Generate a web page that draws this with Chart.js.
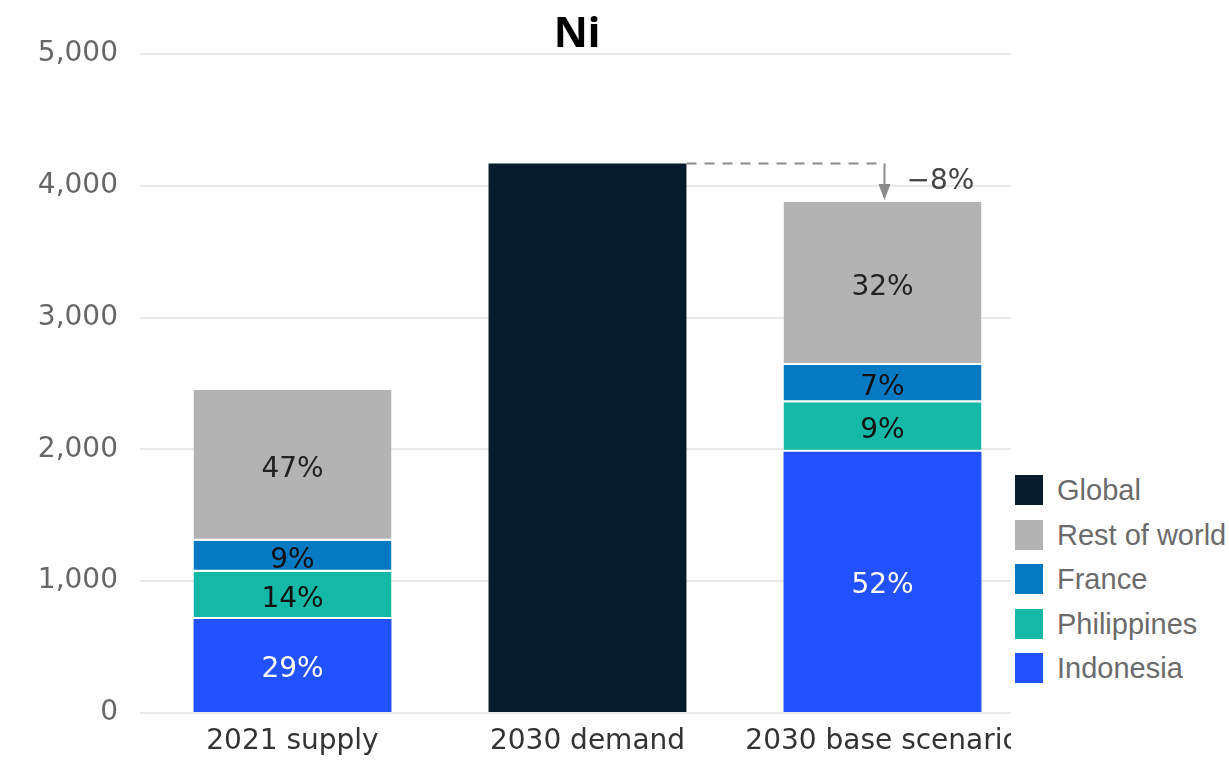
<!DOCTYPE html>
<html>
<head>
<meta charset="utf-8">
<script src="https://cdn.jsdelivr.net/npm/chart.js@4/dist/chart.umd.min.js"></script>
<style>
  html, body { margin: 0; padding: 0; background: #fff; }
  body { width: 1229px; height: 763px; overflow: hidden; position: relative; }
  #wrap { position: absolute; left: 0; top: 0; width: 1011px; height: 763px; overflow: hidden; }
  #title {
    position: absolute; left: 0; top: 10px; width: 1154px; text-align: center;
    font: bold 42px/1 "Noto Sans", sans-serif; color: #000;
  }
  #legend { position: absolute; left: 1015px; top: 475px; font: 29px "Liberation Sans", sans-serif; color: #6b6b6b; white-space: nowrap; }
  .item { position: relative; height: 44.5px; }
  .box { position: absolute; left: 0; top: 0; width: 28px; height: 30px; }
  .txt { position: absolute; left: 42px; top: -2px; line-height: 34px; }
</style>
</head>
<body>
<div id="wrap"><canvas id="chart" width="1229" height="763"></canvas></div>
<div id="title">Ni</div>
<div id="legend"></div>
<script>
// ---------------------------------------------------------------
// data (kt)
// ---------------------------------------------------------------
const categories = ['2021 supply', '2030 demand', '2030 base scenario'];
const indonesia   = [713, null, 1983];
const philippines = [359, null, 374];
const france      = [235, null, 283];
const restOfWorld = [1144, null, 1237];
const globalDemand = [null, 4170, null];

const pctIndonesia   = ['29%', '', '52%'];
const pctPhilippines = ['14%', '', '9%'];
const pctFrance      = ['9%', '', '7%'];
const pctRest        = ['47%', '', '32%'];
const gapLabel = '\u22128%';

const yTicks = [0, 1000, 2000, 3000, 4000, 5000];

const colGlobal = '#051c2c';
const colRest = '#b3b3b3';
const colFrance = '#0679c3';
const colPhil = '#14b8a6';
const colIndo = '#2251ff';

const FONT = '"DejaVu Sans", sans-serif';

// legend (Global first, like the picture)
const legendItems = [
    ['Global', colGlobal],
    ['Rest of world', colRest],
    ['France', colFrance],
    ['Philippines', colPhil],
    ['Indonesia', colIndo]
];
document.getElementById('legend').innerHTML = legendItems.map(([name, c]) =>
    `<div class="item"><div class="box" style="background:${c}"></div><div class="txt">${name}</div></div>`
).join('');

// white separator sits on the bottom of each upper segment
function ds(label, data, color, pct, textColor, sep) {
    return {
        label, data, backgroundColor: color,
        borderColor: '#ffffff',
        borderWidth: { top: 0, left: 0, right: 0, bottom: sep ? 2 : 0 },
        borderSkipped: false,
        pct, textColor
    };
}

// percentages written in the middle of each segment
const segmentLabels = {
    id: 'segmentLabels',
    afterDatasetsDraw(chart) {
        const { ctx } = chart;
        ctx.save();
        ctx.font = '28px ' + FONT;
        ctx.textAlign = 'center';
        ctx.textBaseline = 'middle';
        chart.data.datasets.forEach((d, di) => {
            if (!d.pct) return;
            const meta = chart.getDatasetMeta(di);
            meta.data.forEach((el, i) => {
                if (!d.pct[i]) return;
                ctx.fillStyle = d.textColor;
                ctx.fillText(d.pct[i], el.x, (el.y + el.base) / 2 + 4);
            });
        });
        ctx.restore();
    }
};

// dashed gap line from demand to base scenario with arrow
const gapArrow = {
    id: 'gapArrow',
    afterDatasetsDraw(chart) {
        const { ctx } = chart;
        const demandEl = chart.getDatasetMeta(4).data[1];
        const baseEl = chart.getDatasetMeta(3).data[2];
        const x0 = demandEl.x + demandEl.width / 2;
        const y0 = demandEl.y;
        const x1 = baseEl.x + 2;
        const yTop = baseEl.y - 2;
        ctx.save();
        ctx.strokeStyle = '#8c8c8c';
        ctx.lineWidth = 2;
        ctx.setLineDash([10, 8]);
        ctx.beginPath();
        ctx.moveTo(x0, y0);
        ctx.lineTo(x1, y0);
        ctx.stroke();
        ctx.setLineDash([]);
        ctx.beginPath();
        ctx.moveTo(x1, y0);
        ctx.lineTo(x1, yTop - 14);
        ctx.stroke();
        ctx.fillStyle = '#8c8c8c';
        ctx.beginPath();
        ctx.moveTo(x1 - 6, yTop - 16);
        ctx.lineTo(x1 + 6, yTop - 16);
        ctx.lineTo(x1, yTop);
        ctx.closePath();
        ctx.fill();
        ctx.font = '28px ' + FONT;
        ctx.fillStyle = '#444';
        ctx.textAlign = 'left';
        ctx.textBaseline = 'middle';
        ctx.fillText(gapLabel, x1 + 22, (y0 + yTop) / 2);
        ctx.restore();
    }
};

new Chart(document.getElementById('chart'), {
    type: 'bar',
    data: {
        labels: categories,
        datasets: [
            ds('Indonesia', indonesia, colIndo, pctIndonesia, '#ffffff', false),
            ds('Philippines', philippines, colPhil, pctPhilippines, '#111111', true),
            ds('France', france, colFrance, pctFrance, '#111111', true),
            ds('Rest of world', restOfWorld, colRest, pctRest, '#222222', true),
            { label: 'Global', data: globalDemand, backgroundColor: colGlobal, borderWidth: 0 }
        ]
    },
    options: {
        responsive: false,
        animation: false,
        events: [],
        layout: { padding: { left: 0, top: 54, right: 199, bottom: 0 } },
        datasets: { bar: { barPercentage: 0.671, categoryPercentage: 1 } },
        plugins: {
            legend: { display: false },
            title: { display: false },
            tooltip: { enabled: false }
        },
        scales: {
            x: {
                stacked: true,
                grid: { display: false, drawTicks: false },
                border: { display: false },
                ticks: { color: '#333', font: { family: FONT, size: 28 }, padding: 12, maxRotation: 0, autoSkip: false },
                afterFit(scale) { scale.height = 50; }
            },
            y: {
                stacked: true,
                min: 0,
                max: 5000,
                afterBuildTicks(scale) { scale.ticks = yTicks.map(v => ({ value: v })); },
                grid: { color: '#e9e9e9', lineWidth: 2, drawTicks: true, tickLength: 5 },
                border: { display: false },
                ticks: {
                    color: '#666',
                    padding: 22,
                    font: { family: FONT, size: 28 },
                    callback: v => v.toLocaleString('en-US')
                },
                afterFit(scale) { scale.width = 145; }
            }
        }
    },
    plugins: [segmentLabels, gapArrow]
});
</script>
</body>
</html>
